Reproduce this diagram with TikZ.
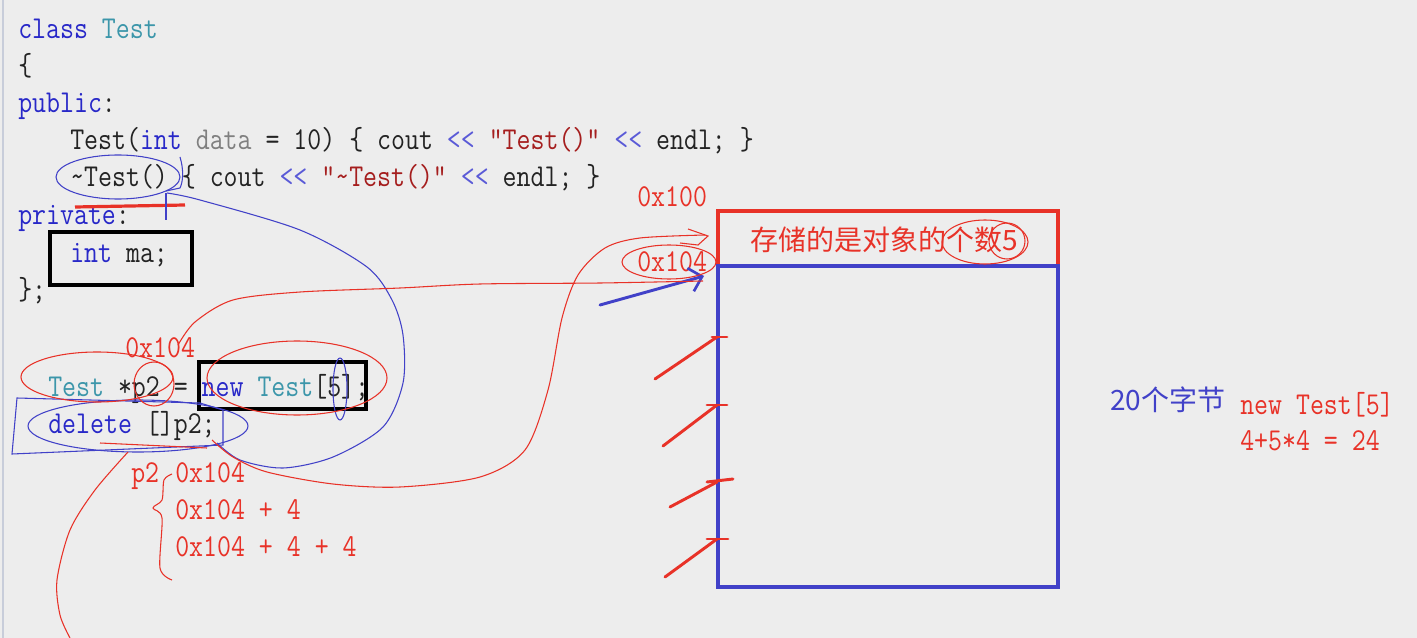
\documentclass[tikz,border=0pt]{standalone}
\usepackage{fontspec}
\usepackage{graphicx}
\newfontfamily\cjk{Noto Sans CJK SC}
\usetikzlibrary{arrows.meta,shapes.geometric}
\definecolor{bg}{RGB}{237,237,237}
\definecolor{kw}{RGB}{40,40,200}
\definecolor{op}{RGB}{90,90,215}
\definecolor{ty}{RGB}{60,150,170}
\definecolor{strc}{RGB}{165,30,30}
\definecolor{grc}{RGB}{128,128,128}
\definecolor{txt}{RGB}{35,35,35}
\definecolor{ann}{RGB}{232,50,40}
\definecolor{annb}{RGB}{65,65,200}
\newcommand\cd[1]{\scalebox{0.85}[1]{#1}}
\begin{document}
\begin{tikzpicture}[x=0.75pt,y=-0.75pt,
  code/.style={font=\ttfamily\fontsize{23.9pt}{26pt}\selectfont, inner sep=0pt, anchor=base west, text=txt},
  redtxt/.style={code, text=ann},
  cjktxt/.style={font=\cjk\fontsize{21pt}{24pt}\selectfont, inner sep=0pt},
  thick box/.style={line width=2.4pt},
  pen/.style={line width=0.8pt},
  bold pen/.style={line width=2.2pt, line cap=round}]
\useasboundingbox (0,0) rectangle (1417,638);
\fill[bg] (0,0) rectangle (1417,638);
\draw[color={rgb,255:red,200;green,205;blue,218}, line width=1pt] (3,0) -- (3,638);

% ---------- code ----------
\node[code] (l1) at (18,39) {\cd{\textcolor{kw}{class} \textcolor{ty}{Test}}};
\node[code] (l2) at (18,76) {\cd{\{}};
\node[code] (l3) at (18,113) {\cd{\textcolor{kw}{public}:}};
\node[code] (l4) at (70,150) {\cd{Test(\textcolor{kw}{int} \textcolor{grc}{data} = 10) \{ cout \textcolor{op}{<{}<} \textcolor{strc}{"Test()"} \textcolor{op}{<{}<} endl; \}}};
\node[code] (l5) at (70,187) {\cd{\textasciitilde Test() \{ cout \textcolor{op}{<{}<} \textcolor{strc}{"\textasciitilde Test()"} \textcolor{op}{<{}<} endl; \}}};
\node[code] (l6) at (18,224) {\cd{\textcolor{kw}{private}:}};
\node[code] (l7) at (70,262) {\cd{\textcolor{kw}{int} ma;}};
\node[code] (l8) at (18,299) {\cd{\};}};
\node[code] (l9) at (48,396) {\cd{\textcolor{ty}{Test} *p2 = \textcolor{kw}{new} \textcolor{ty}{Test}[5];}};
\node[code] (l10) at (48,433) {\cd{\textcolor{kw}{delete} []p2;}};

\draw[thick box] (50,232) rectangle (192,285);
\draw[thick box] (199,362) rectangle (366,409);

% ---------- red notes ----------
\node[redtxt] (a104) at (125,357) {\cd{0x104}};
\node[redtxt] (p2) at (131,482) {\cd{p2}};
\node[redtxt] (e1) at (175,482) {\cd{0x104}};
\node[redtxt] (e2) at (175,519) {\cd{0x104 + 4}};
\node[redtxt] (e3) at (175,556) {\cd{0x104 + 4 + 4}};
\node[redtxt] (b100) at (637,207) {\cd{0x100}};
\node[redtxt] (b104) at (637,271) {\cd{0x104}};
\node[redtxt] (n1) at (1240,414) {\cd{new Test[5]}};
\node[redtxt] (n2) at (1240,450) {\cd{4+5*4 = 24}};
\node[cjktxt, text=annb, anchor=west] (bytes) at (1110,400) {20个字节};

% ---------- memory blocks ----------
\draw[thick box, ann] (718,211) rectangle (1058,266);
\node[cjktxt, text=ann] (cnt) at (884,240) {存储的是对象的个数5};
\draw[thick box, annb] (718,266) rectangle (1058,587);

% arrows into block
\coordinate (s0) at (600,305); \coordinate (t0) at (704,276);
\draw[bold pen, annb, -{Straight Barb[length=9pt,width=18pt,line width=2pt]}] (s0) -- (t0);
\coordinate (s1) at (655,379); \coordinate (t1) at (717,337);
\coordinate (s2) at (663,446); \coordinate (t2) at (717,405);
\coordinate (s3) at (670,507); \coordinate (t3) at (717,482);
\coordinate (s4) at (665,577); \coordinate (t4) at (717,539);
\draw[bold pen, ann] (s1) -- (t1); \draw[bold pen, ann] (712,337) -- (727,337);
\draw[bold pen, ann] (s2) -- (t2); \draw[bold pen, ann] (707,405) -- (727,405);
\draw[bold pen, ann] (s3) -- (t3); \draw[bold pen, ann] (707,482) -- (733,479);
\draw[bold pen, ann] (s4) -- (t4); \draw[bold pen, ann] (707,539) -- (728,539);

% ---------- hand annotations ----------
\draw[ann, line width=2.4pt] (75,207) -- (185,205);
\draw[annb, pen] (118,177) ellipse [x radius=62, y radius=22];
\draw[annb, pen] (166,193) -- (166,220);
\draw[annb, pen] (180,157) .. controls (184,170) and (183,182) .. (180,188) -- (166,191);
\draw[annb, pen] plot[smooth] coordinates {(167,193)(200,200)(300,230)(367,267)(392,300)(403,335)(403,383)(383,427)(333,457)(283,468)(240,460)(217,443)};
\draw[annb, pen] (138,426) ellipse [x radius=110, y radius=26];
\draw[annb, pen] (17,398) -- (200,403) -- (223,410) -- (223,445) -- (12,454) -- cycle;
\draw[annb, pen] (340,389) ellipse [x radius=7, y radius=31];

\draw[ann, pen] (97,377) ellipse [x radius=76, y radius=25];
\draw[ann, pen] (154,384) ellipse [x radius=20, y radius=22];
\draw[ann, pen] (297,378) ellipse [x radius=90, y radius=37];
\draw[ann, pen] (100,443) -- (207,448);
\draw[ann, pen] plot[smooth] coordinates {(178,345)(195,322)(233,300)(300,292)(400,288)(480,284)(600,283)(703,281)};
\draw[ann, pen] plot[smooth] coordinates {(212,440)(233,457)(267,472)(333,484)(400,487)(480,477)(525,450)(548,390)(562,318)(578,275)(605,248)(640,238)(705,235)};
\draw[ann, pen] (688,229) -- (708,236) -- (698,245) -- (680,243);
\draw[ann, pen] plot[smooth] coordinates {(128,452)(95,490)(70,530)(57,580)(60,615)(70,638)};
\draw[ann, pen] plot[smooth] coordinates {(172,474)(164,480)(162,500)(153,508)(162,518)(160,568)(172,580)};
\draw[ann, pen] (669,262) ellipse [x radius=47, y radius=17];
\draw[ann, pen] (985,242) ellipse [x radius=43, y radius=22];
\draw[ann, pen] (1007,241) circle [radius=18];
\end{tikzpicture}
\end{document}
